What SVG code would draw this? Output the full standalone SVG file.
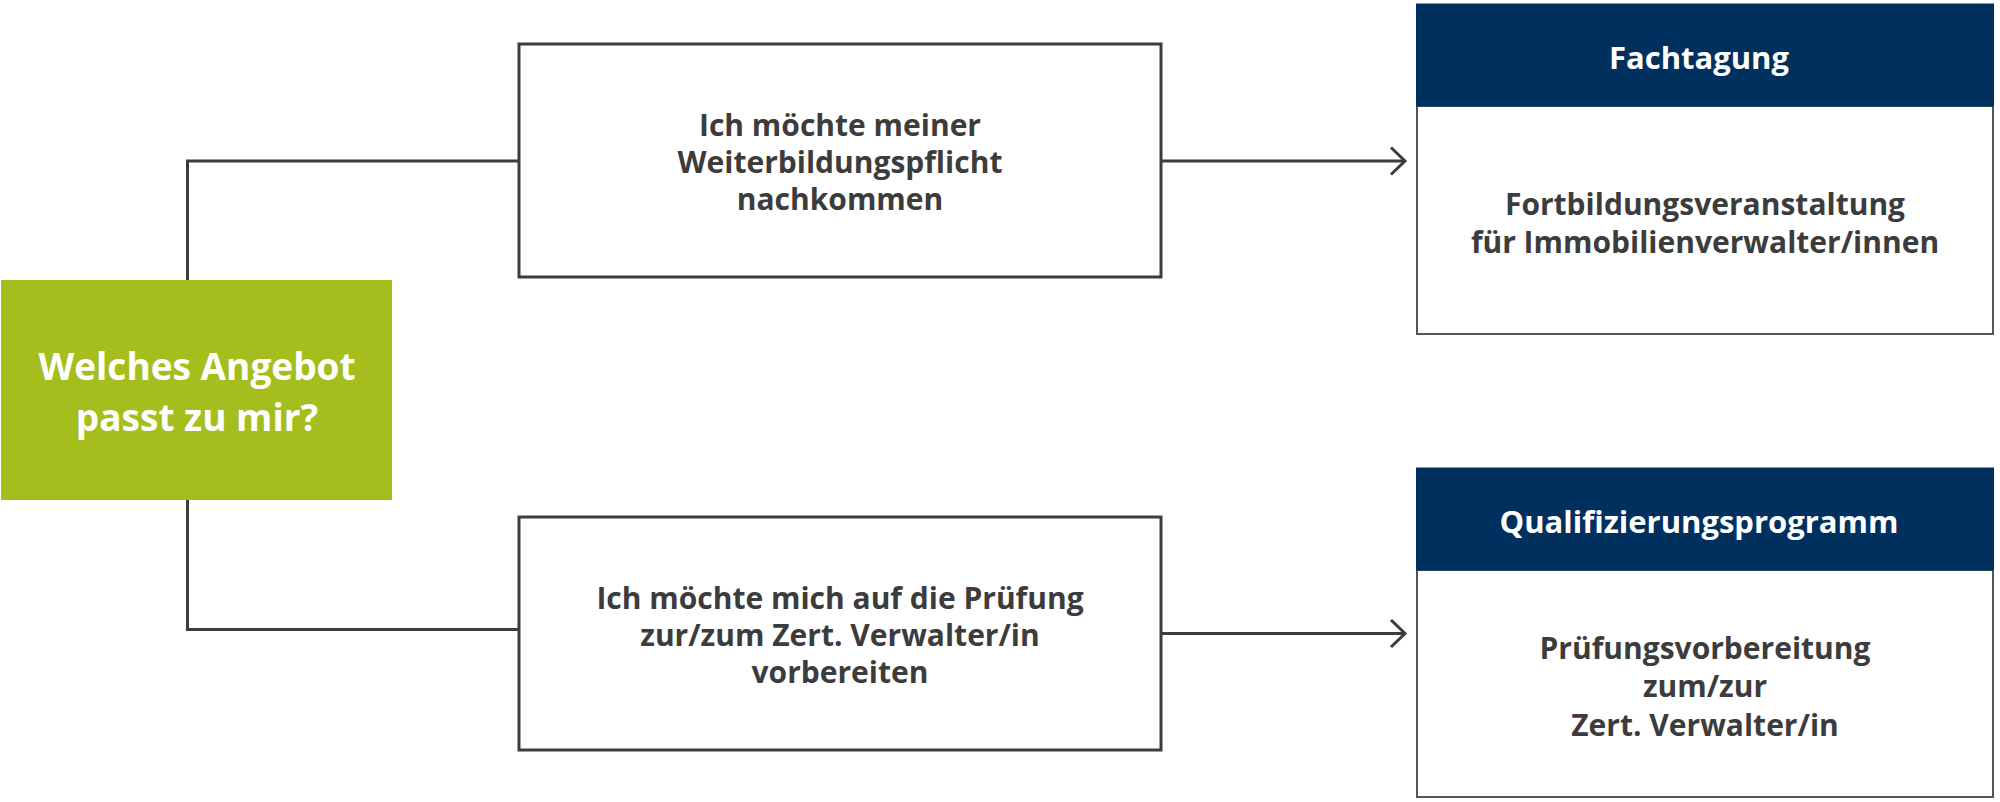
<svg xmlns="http://www.w3.org/2000/svg" width="2000" height="802" viewBox="0 0 2000 802">
<defs>
<style>
.t{font-family:"Open Sans","Liberation Sans",sans-serif;font-weight:700;text-anchor:middle;fill:#3c3c3c;font-size:30px}
.w{fill:#ffffff}
.box{fill:#ffffff;stroke:#3c3c3c;stroke-width:3}
.body{fill:#ffffff;stroke:#555555;stroke-width:2}
.hdr{fill:#00305e}
.con{fill:none;stroke:#3c3c3c;stroke-width:3}
</style>
</defs>
<rect width="2000" height="802" fill="#ffffff"/>
<g id="connectors">
<path class="con" d="M187.5 280 V161 H519"/>
<path class="con" d="M187.5 500 V629.5 H519"/>
<path class="con" d="M1161 161 H1405"/>
<path class="con" d="M1391 147.5 L1405 161 L1391 174.5"/>
<path class="con" d="M1161 633.5 H1405"/>
<path class="con" d="M1391 620 L1405 633.5 L1391 647"/>
</g>
<g id="start">
<rect x="1" y="280" width="391" height="220" fill="#a5be1e"/>
<text class="t w" style="font-size:37px" x="197" y="380">Welches Angebot</text>
<text class="t w" style="font-size:37px" x="197" y="431">passt zu mir?</text>
</g>
<g id="option1">
<rect class="box" x="519" y="44" width="642" height="233"/>
<text class="t" x="840" y="136">Ich möchte meiner</text>
<text class="t" x="840" y="173">Weiterbildungspflicht</text>
<text class="t" x="840" y="210">nachkommen</text>
</g>
<g id="option2">
<rect class="box" x="519" y="517" width="642" height="233"/>
<text class="t" x="840" y="609">Ich möchte mich auf die Prüfung</text>
<text class="t" x="840" y="646">zur/zum Zert. Verwalter/in</text>
<text class="t" x="840" y="683">vorbereiten</text>
</g>
<g id="fachtagung">
<rect class="body" x="1417" y="106" width="576" height="228"/>
<rect class="hdr" x="1416" y="3.5" width="578" height="103"/>
<text class="t w" style="font-size:31px" x="1699" y="69">Fachtagung</text>
<text class="t" x="1705" y="215">Fortbildungsveranstaltung</text>
<text class="t" x="1705" y="253">für Immobilienverwalter/innen</text>
</g>
<g id="qualifizierung">
<rect class="body" x="1417" y="570" width="576" height="227"/>
<rect class="hdr" x="1416" y="467.5" width="578" height="103"/>
<text class="t w" style="font-size:31px" x="1699" y="533">Qualifizierungsprogramm</text>
<text class="t" x="1705" y="659">Prüfungsvorbereitung</text>
<text class="t" x="1705" y="697">zum/zur</text>
<text class="t" x="1705" y="736">Zert. Verwalter/in</text>
</g>
</svg>
